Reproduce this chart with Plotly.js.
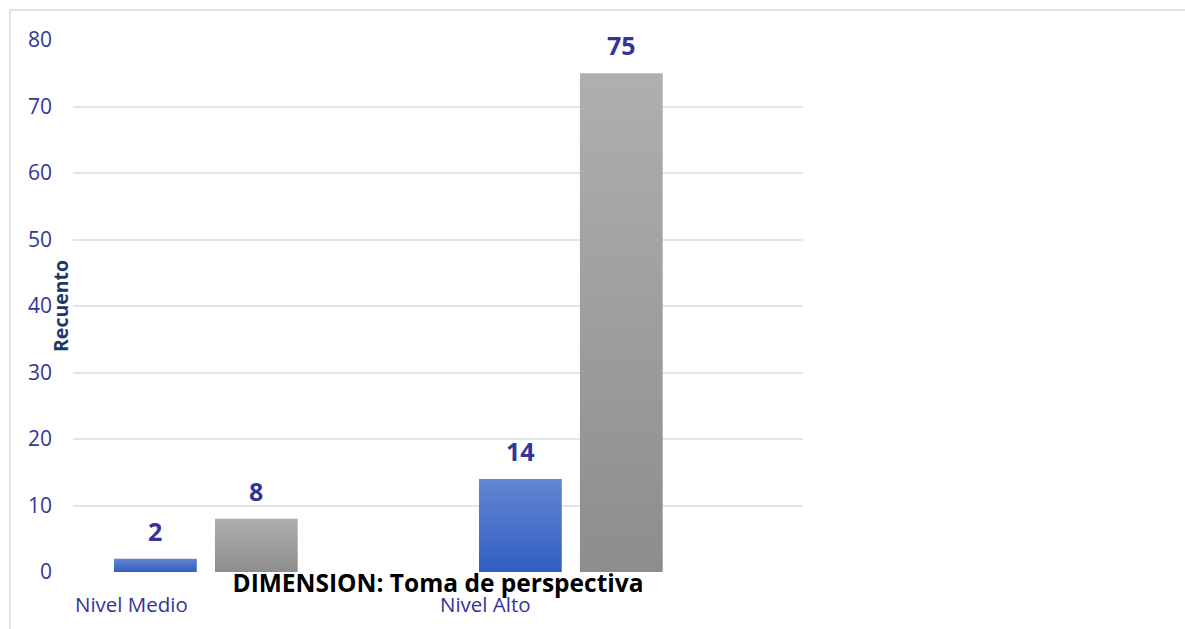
<!DOCTYPE html>
<html>
<head>
<meta charset="utf-8">
<script src="https://cdn.plot.ly/plotly-3.0.1.min.js"></script>
<style>
  html, body { margin: 0; padding: 0; background: #ffffff; }
  #frame { position: absolute; left: 9px; top: 9px; width: 1185px; height: 630px;
           border-top: 2px solid #dfe3ea; border-left: 2px solid #dfe3ea; }
  #chart { position: absolute; left: 0; top: 0; width: 1185px; height: 629px; }
</style>
</head>
<body>
<div id="frame"></div>
<div id="chart"></div>
<script>
// Counts per level for the two series
const categories = ['Nivel Medio', 'Nivel Alto'];
const serieA = [2, 14];
const serieB = [8, 75];
const yTickValues = [0, 10, 20, 30, 40, 50, 60, 70, 80];

const chartTitle = 'DIMENSION: Toma de perspectiva';
const yTitle = 'Recuento';

// Layout constants
const W = 1185, H = 629;
const M = { l: 73, r: 382, t: 40, b: 57 };
const BARGAP = 0.447, GROUPGAP = 0.18;
const X_RANGE = [-0.364, 1.636];
const plotW = W - M.l - M.r;
const catPx = plotW / (X_RANGE[1] - X_RANGE[0]);
const barShift = (1 - BARGAP) / 4 * catPx;

const labelColor = '#34349a';
const fontFam = '"Open Sans", "Noto Sans", sans-serif';

const traces = [
  { type: 'bar', name: 'Serie 1', x: categories, y: serieA,
    marker: { color: '#4570c9', line: { width: 0 } }, hoverinfo: 'x+y' },
  { type: 'bar', name: 'Serie 2', x: categories, y: serieB,
    marker: { color: '#9c9c9c', line: { width: 0 } }, hoverinfo: 'x+y' }
];

const annotations = [];
// value labels above each bar
[serieA, serieB].forEach((vals, s) => {
  vals.forEach((v, i) => {
    annotations.push({
      x: categories[i], y: v, xref: 'x', yref: 'y',
      text: '<b>' + v + '</b>', showarrow: false,
      xshift: s === 0 ? -barShift : barShift, yshift: 28,
      xanchor: 'center', yanchor: 'middle',
      font: { family: fontFam, size: 25, color: labelColor }
    });
  });
});
// category labels under each group
categories.forEach((c) => {
  annotations.push({
    x: c, y: 0, xref: 'x', yref: 'y', text: c, showarrow: false,
    xshift: -133, yshift: -32, xanchor: 'left', yanchor: 'middle',
    font: { family: fontFam, size: 20.5, color: labelColor }
  });
});
// vertical axis title, between tick labels and the plot
annotations.push({
  x: -13 / plotW, y: 0.5, xref: 'paper', yref: 'paper',
  text: '<b>' + yTitle + '</b>', showarrow: false, textangle: -90,
  xanchor: 'center', yanchor: 'middle',
  font: { family: fontFam, size: 19.5, color: '#1c3866' }
});

const layout = {
  width: W, height: H,
  margin: M,
  paper_bgcolor: 'rgba(0,0,0,0)', plot_bgcolor: 'rgba(0,0,0,0)',
  showlegend: false,
  barmode: 'group', bargap: BARGAP, bargroupgap: GROUPGAP,
  title: {
    text: '<b>' + chartTitle + '</b>',
    x: 438 / W, xanchor: 'center', y: 1 - 583 / H, yanchor: 'middle',
    font: { family: fontFam, size: 24.5, color: '#000000' }
  },
  xaxis: {
    range: X_RANGE,
    showticklabels: false, showgrid: false, zeroline: false, showline: false,
    ticks: '', fixedrange: true
  },
  yaxis: {
    range: [0, 80], tickvals: yTickValues, ticks: '',
    showgrid: true, gridcolor: '#e1e4eb', gridwidth: 2,
    zeroline: false, showline: false, ticklabelstandoff: 20,
    tickfont: { family: fontFam, size: 21, color: labelColor },
    fixedrange: true
  },
  annotations: annotations
};

Plotly.newPlot('chart', traces, layout, { displayModeBar: false, staticPlot: true }).then(() => {
  // vertical shading on bars: lighter at the top, darker at the base
  const svg = document.querySelector('#chart .main-svg');
  const ns = 'http://www.w3.org/2000/svg';
  const defs = document.createElementNS(ns, 'defs');
  const grads = [
    { id: 'gradA', top: '#6385d2', bottom: '#2f5fc1' },
    { id: 'gradB', top: '#afafaf', bottom: '#8d8d8d' }
  ];
  grads.forEach(g => {
    const lg = document.createElementNS(ns, 'linearGradient');
    lg.setAttribute('id', g.id);
    lg.setAttribute('x1', '0'); lg.setAttribute('y1', '0');
    lg.setAttribute('x2', '0'); lg.setAttribute('y2', '1');
    [['0', g.top], ['1', g.bottom]].forEach(([o, c]) => {
      const st = document.createElementNS(ns, 'stop');
      st.setAttribute('offset', o); st.setAttribute('stop-color', c);
      lg.appendChild(st);
    });
    defs.appendChild(lg);
  });
  svg.insertBefore(defs, svg.firstChild);
  document.querySelectorAll('#chart .barlayer .trace').forEach((tr, k) => {
    tr.querySelectorAll('.point path').forEach(p => {
      p.style.fill = 'url(#' + grads[k].id + ')';
    });
  });
});
</script>
</body>
</html>
